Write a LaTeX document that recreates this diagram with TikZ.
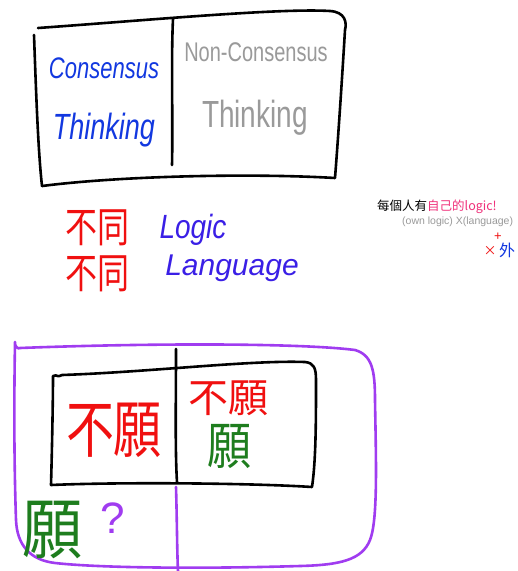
\documentclass[tikz,border=0pt]{standalone}
\usepackage{fontspec}
\setmainfont{Liberation Sans}
\newfontfamily\cjk{Noto Sans CJK TC}
\definecolor{penblue}{HTML}{1238E0}
\definecolor{penviolet}{HTML}{3A1FE6}
\definecolor{pengray}{HTML}{9A9A9A}
\definecolor{penred}{HTML}{F01010}
\definecolor{pengreen}{HTML}{1E7D1E}
\definecolor{penpurple}{HTML}{A03CF0}
\definecolor{penpink}{HTML}{F0307A}
\newcommand{\tall}[2][1.35]{\scalebox{1}[#1]{#2}}
\tikzset{
  ink/.style={line width=2.6pt, line cap=round, line join=round},
  blackink/.style={ink, draw=black},
  purpleink/.style={ink, draw=penpurple},
  hw/.style={font=\itshape, inner sep=0pt, anchor=center},
  cj/.style={font=\cjk, inner sep=0pt, anchor=center}
}
\begin{document}
\begin{tikzpicture}[x=1pt,y=-1pt]
\useasboundingbox (0,0) rectangle (518,571);
\fill[white] (0,0) rectangle (518,571);
% top box
\coordinate (tl) at (38,28);
\coordinate (tr) at (345,30);
\coordinate (br) at (335,178);
\coordinate (bl) at (42,186);
\draw[blackink] (tl) .. controls (150,20) and (280,8) .. (330,11)
  .. controls (345,12) and (347,22) .. (tr)
  .. controls (342,80) and (338,140) .. (br)
  .. controls (250,173) and (120,176) .. (bl);
\draw[blackink] (34,35) .. controls (36,90) and (38,150) .. (bl);
\coordinate (dtop) at (173,19);
\coordinate (dbot) at (172,165);
\draw[blackink] (dtop) .. controls (171,60) and (173,120) .. (dbot);
\node[hw, text=penblue, font=\itshape\fontsize{22}{22}\selectfont] (cons) at (104,68) {\tall{Consensus}};
\node[hw, text=penblue, font=\itshape\fontsize{27}{27}\selectfont] (think1) at (104,130) {\tall{Thinking}};
\node[hw, text=pengray, font=\fontsize{20}{20}\selectfont] (noncons) at (256,52) {\tall{Non-Consensus}};
\node[hw, text=pengray, font=\fontsize{28}{28}\selectfont] (think2) at (255,118) {\tall{Thinking}};
% middle lines
\node[cj, text=penred, font=\cjk\fontsize{32}{32}\selectfont] (bt1) at (97,228) {\tall[1.3]{不同}};
\node[hw, text=penviolet, font=\itshape\fontsize{28}{28}\selectfont] (logic) at (193,230) {\tall[1.2]{Logic}};
\node[cj, text=penred, font=\cjk\fontsize{32}{32}\selectfont] (bt2) at (97,274) {\tall[1.3]{不同}};
\node[hw, text=penviolet, font=\itshape\fontsize{30}{30}\selectfont] (lang) at (232,268) {Language};
% side note
\node[anchor=west, inner sep=0pt, font=\cjk\fontsize{12.5}{12.5}\selectfont] (note1) at (377,207)
  {每個人有\textcolor{penpink}{自己的logic!}};
\node[anchor=west, inner sep=0pt, text=pengray, font=\fontsize{10.5}{10.5}\selectfont] (note2) at (402,222)
  {(own logic) X(language)};
\node[inner sep=0pt, text=penred, font=\fontsize{13}{13}\selectfont] (plus) at (498,237) {+};
\node[inner sep=0pt, text=penred, font=\cjk\fontsize{13}{13}\selectfont] (times) at (490,251) {×};
\node[inner sep=0pt, text=penblue, font=\cjk\fontsize{16}{16}\selectfont] (wai) at (507,250) {外};
% bottom purple box
\coordinate (ptl) at (15,342);
\draw[purpleink] (ptl) .. controls (14,345) and (18,350) .. (20,348)
  .. controls (150,343) and (300,343) .. (355,350)
  .. controls (372,355) and (375,370) .. (375,400)
  .. controls (376,460) and (378,520) .. (370,540)
  .. controls (362,560) and (340,565) .. (300,566)
  .. controls (200,569) and (100,568) .. (55,563)
  .. controls (30,560) and (17,545) .. (16,520)
  .. controls (14,460) and (14,400) .. (ptl);
\coordinate (pdtop) at (176,487);
\coordinate (pdbot) at (178,571);
\draw[purpleink] (pdtop) .. controls (177,520) and (177,550) .. (pdbot);
% inner black box
\coordinate (itl) at (53,376);
\coordinate (ibr) at (312,487);
\coordinate (ibl) at (51,485);
\draw[blackink] (itl) .. controls (58,374) and (56,378) .. (62,375)
  .. controls (150,372) and (250,360) .. (305,362)
  .. controls (314,363) and (316,368) .. (316,380)
  .. controls (316,420) and (316,460) .. (ibr)
  .. controls (250,483) and (120,482) .. (ibl)
  .. controls (52,450) and (53,400) .. (itl);
\coordinate (idtop) at (176,349);
\coordinate (idbot) at (177,482);
\draw[blackink] (idtop) .. controls (176,400) and (175,450) .. (idbot);
\node[cj, text=penred, font=\cjk\fontsize{48}{48}\selectfont] (bn1) at (114,430) {\tall[1.3]{不願}};
\node[cj, text=penred, font=\cjk\fontsize{40}{40}\selectfont] (bn2) at (228,398) {不願};
\node[cj, text=pengreen, font=\cjk\fontsize{44}{44}\selectfont] (yuan1) at (229,446) {\tall[1.15]{願}};
\node[cj, text=pengreen, font=\cjk\fontsize{60}{60}\selectfont] (yuan2) at (53,530) {\tall[1.1]{願}};
\node[hw, text=penpurple, font=\fontsize{44}{44}\selectfont] (q) at (113,518) {?};
\end{tikzpicture}
\end{document}
